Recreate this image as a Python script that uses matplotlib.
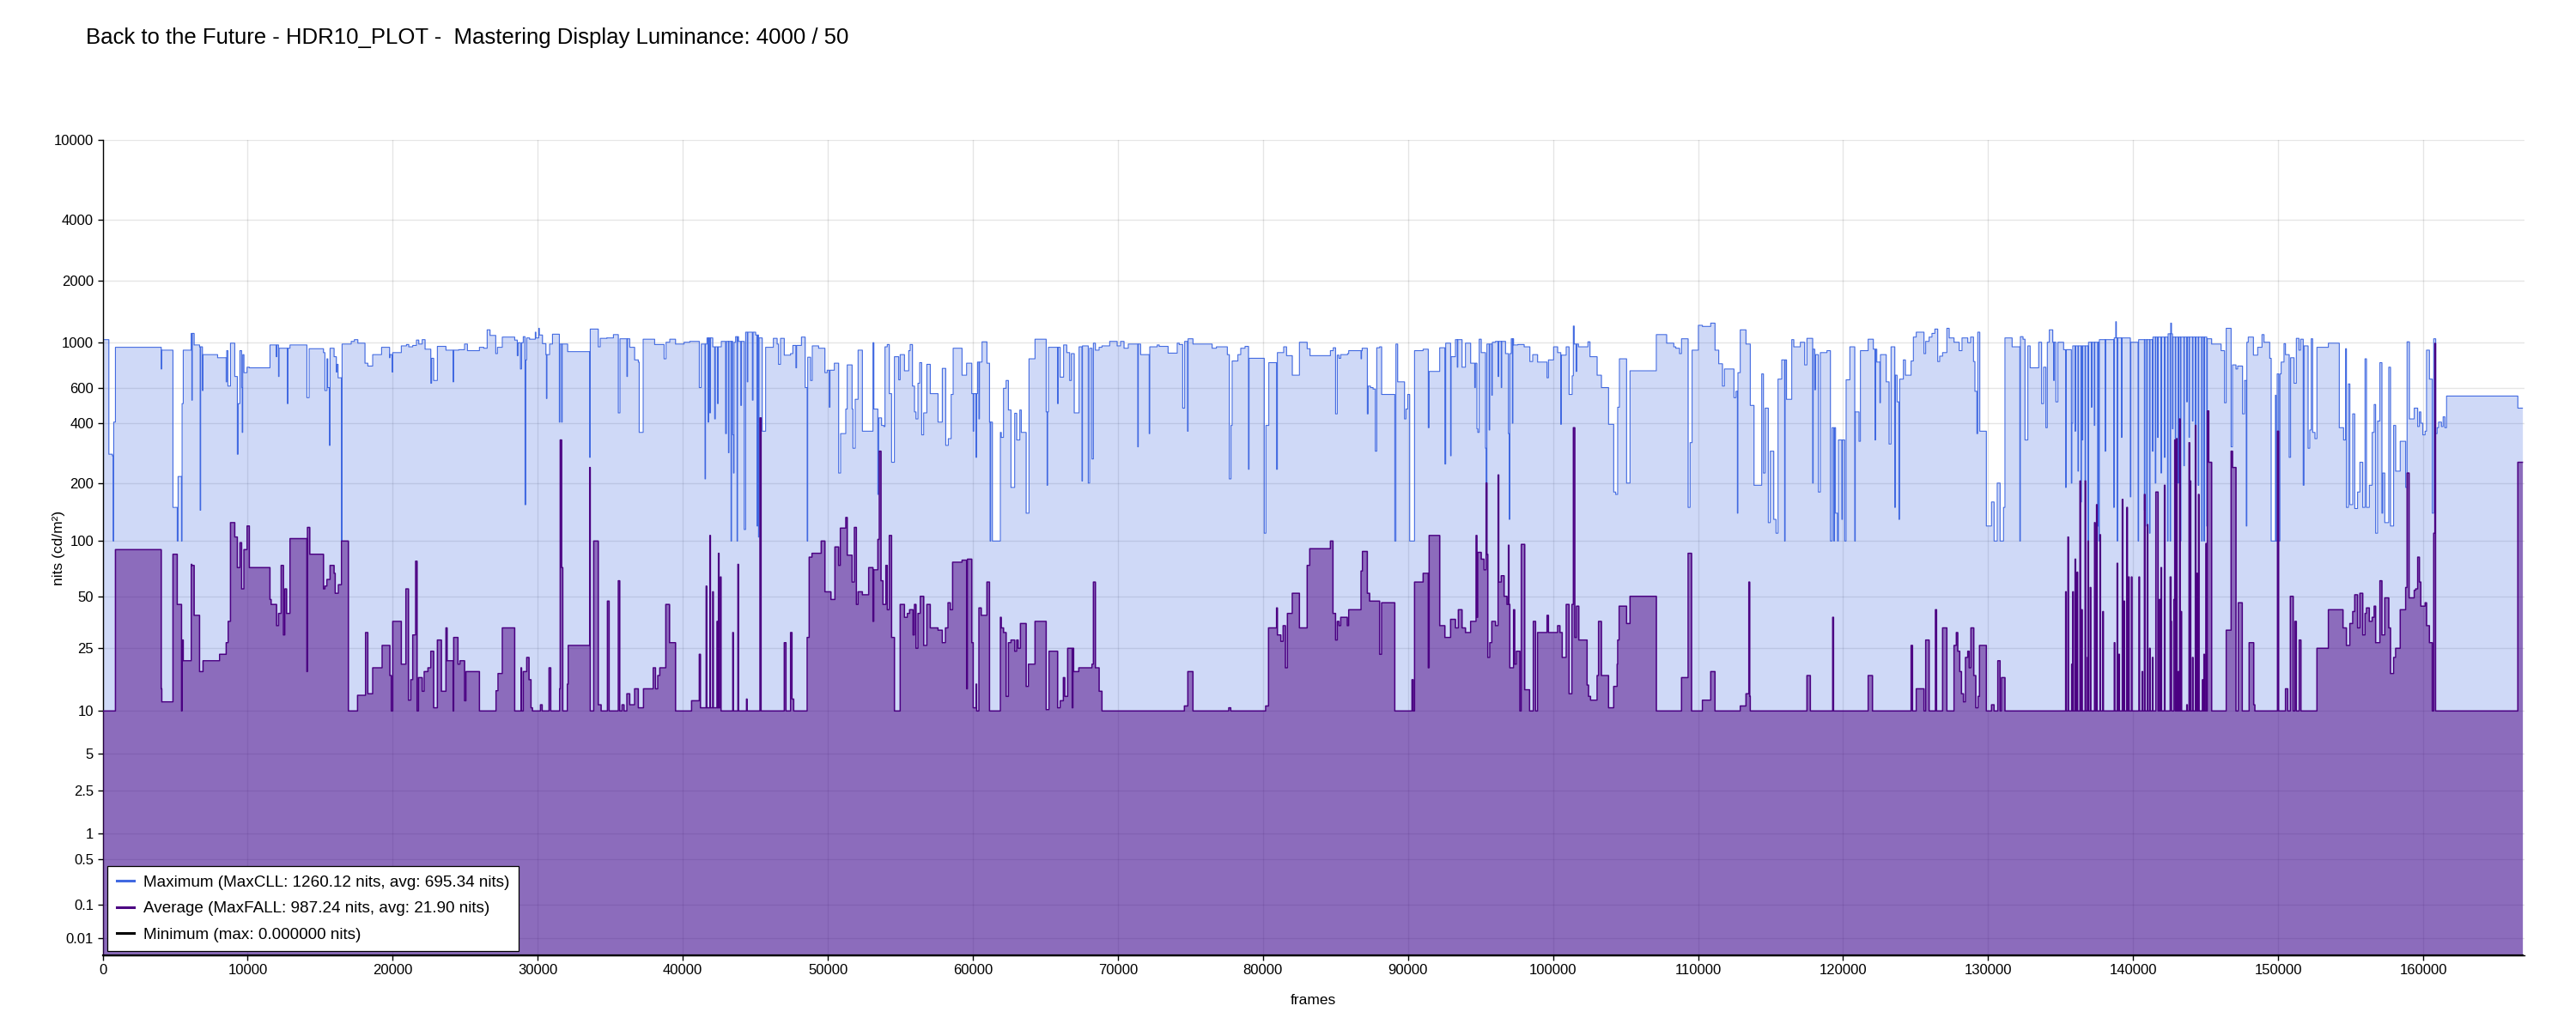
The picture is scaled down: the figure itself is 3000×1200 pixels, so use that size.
import numpy as np
import matplotlib.pyplot as plt
from matplotlib.lines import Line2D

plt.rcParams['font.family'] = ['Liberation Sans', 'DejaVu Sans']

# HDR10 per-frame brightness, stored as (first frame of scene, nits) steps

TITLE = 'Back to the Future - HDR10_PLOT -  Mastering Display Luminance: 4000 / 50'
END_FRAME = 166838
X_MAX = 166980

max_steps = [
    (0, 1030), (430, 280), (670, 275), (727, 100), (766, 405), (884, 945), (4041, 740), (4081, 915),
    (4850, 150), (5146, 100), (5205, 216), (5442, 100), (5481, 500), (5560, 915), (6113, 1105), (6152, 520),
    (6190, 1105), (6310, 970), (6685, 950), (6724, 145), (6764, 950), (6882, 580), (6922, 870), (7928, 840),
    (8520, 640), (8559, 910), (8638, 610), (8816, 990), (9112, 680), (9289, 280), (9348, 500), (9467, 910),
    (9585, 600), (9625, 360), (9664, 870), (9743, 710), (9960, 755), (10118, 750), (11539, 970), (11973, 850),
    (12012, 970), (12130, 680), (12170, 935), (12742, 500), (12781, 935), (12920, 970), (14084, 535), (14242, 930),
    (15228, 890), (15327, 580), (15465, 830), (15524, 600), (15642, 310), (15682, 935), (15958, 850), (16116, 715),
    (16155, 780), (16234, 670), (16471, 100), (16511, 980), (17142, 1010), (17359, 1030), (17596, 990), (18089, 790),
    (18286, 765), (18622, 870), (19234, 945), (19786, 840), (19805, 870), (19963, 715), (20003, 890), (20595, 960),
    (20950, 975), (21108, 950), (21384, 965), (21640, 1025), (21798, 980), (22035, 1030), (22232, 925), (22627, 630),
    (22686, 835), (22824, 650), (23081, 955), (23672, 915), (24166, 640), (24205, 915), (24560, 920), (24955, 980),
    (25152, 910), (25981, 945), (26277, 935), (26514, 1150), (26711, 1080), (27105, 880), (27224, 945), (27559, 1060),
    (28412, 1025), (28590, 860), (28649, 995), (28807, 740), (28886, 995), (29004, 1065), (29123, 155), (29182, 820),
    (29241, 1050), (29438, 1035), (29833, 1120), (29872, 1050), (30070, 1170), (30110, 1085), (30326, 985), (30563, 870),
    (30600, 530), (30640, 870), (30820, 980), (31017, 1095), (31490, 405), (31530, 980), (31648, 405), (31690, 980),
    (32062, 900), (33582, 270), (33621, 1160), (34174, 950), (34312, 1045), (34766, 1050), (35219, 1090), (35555, 450),
    (35673, 1040), (36147, 680), (36190, 1040), (36344, 945), (36679, 820), (36936, 800), (36995, 360), (37271, 1035),
    (38060, 975), (38712, 830), (38850, 1000), (39106, 1035), (39501, 980), (40093, 1000), (40487, 1010), (41139, 600),
    (41276, 980), (41533, 210), (41572, 980), (41671, 1050), (41750, 405), (41790, 1050), (41868, 450), (41910, 1050),
    (42066, 950), (42200, 420), (42250, 950), (42400, 500), (42440, 950), (42658, 1010), (42953, 355), (43013, 1010),
    (43151, 285), (43190, 1010), (43328, 100), (43367, 1010), (43447, 350), (43500, 225), (43540, 1000), (43644, 1065),
    (43743, 100), (43782, 1065), (43841, 1010), (44000, 490), (44050, 1010), (44236, 115), (44335, 1120), (44450, 640),
    (44490, 1120), (44800, 520), (44850, 1120), (45025, 1085), (45124, 120), (45163, 1085), (45222, 105), (45262, 1050),
    (45478, 365), (45715, 945), (46248, 1045), (46505, 980), (46600, 780), (46742, 1045), (46998, 865), (47432, 880),
    (47590, 965), (47800, 750), (47850, 965), (48182, 1060), (48438, 600), (48577, 100), (48616, 845), (48813, 650),
    (48932, 960), (49366, 935), (49800, 710), (49958, 730), (50100, 480), (50150, 730), (50451, 790), (50747, 225),
    (50885, 355), (51240, 470), (51339, 775), (51674, 470), (51733, 300), (51891, 525), (52088, 915), (52384, 365),
    (53114, 995), (53174, 470), (53450, 175), (53509, 425), (53706, 390), (53864, 385), (53943, 950), (54101, 975),
    (54239, 560), (54397, 255), (54594, 850), (54890, 655), (54989, 870), (55285, 725), (55581, 910), (55679, 975),
    (55837, 610), (55975, 455), (56079, 420), (56217, 630), (56335, 795), (56473, 350), (56611, 450), (56828, 780),
    (57065, 560), (57598, 405), (57894, 745), (58131, 310), (58308, 335), (58505, 555), (58644, 935), (59255, 690),
    (59571, 790), (59926, 560), (60025, 365), (60065, 560), (60222, 270), (60262, 560), (60321, 800), (60419, 420),
    (60460, 800), (60636, 1005), (60971, 790), (61149, 405), (61189, 100), (61230, 405), (61347, 100), (61899, 360),
    (61958, 340), (62116, 595), (62294, 650), (62451, 465), (62629, 190), (62886, 448), (63024, 330), (63241, 465),
    (63339, 360), (63675, 140), (63872, 830), (64286, 1035), (65056, 455), (65120, 195), (65160, 455), (65214, 945),
    (65845, 500), (65884, 945), (66022, 675), (66259, 970), (66476, 890), (66674, 650), (66792, 880), (66989, 450),
    (67325, 950), (67522, 205), (67560, 960), (67956, 200), (68055, 935), (68213, 265), (68311, 990), (68449, 915),
    (68706, 945), (68903, 960), (69436, 1010), (69949, 960), (70186, 1010), (70422, 935), (70718, 980), (71369, 305),
    (71410, 980), (71567, 870), (72159, 355), (72200, 950), (72711, 970), (72849, 955), (73461, 885), (74092, 990),
    (74230, 975), (74467, 475), (74605, 1010), (74802, 365), (74842, 1040), (75177, 980), (76499, 935), (76795, 950),
    (77545, 870), (77683, 210), (77802, 390), (77880, 810), (78275, 870), (78472, 935), (78768, 955), (79005, 235),
    (79045, 835), (80090, 110), (80208, 390), (80406, 795), (80939, 235), (80998, 890), (81432, 950), (81629, 860),
    (82024, 690), (82517, 1000), (83050, 930), (83247, 860), (84652, 910), (84850, 940), (85008, 445), (85126, 865),
    (85244, 835), (85363, 870), (85836, 880), (85915, 910), (86764, 830), (86803, 910), (86842, 935), (87198, 445),
    (87257, 610), (87415, 600), (87592, 590), (87750, 290), (87849, 940), (88046, 950), (88184, 555), (89092, 100),
    (89171, 980), (89289, 640), (89763, 420), (89861, 470), (89980, 555), (90118, 100), (90453, 910), (91045, 925),
    (91400, 380), (91459, 720), (92189, 940), (92544, 250), (92604, 990), (92939, 275), (92979, 850), (93274, 1030),
    (93400, 755), (93440, 1030), (93728, 755), (93965, 990), (94320, 790), (94600, 600), (94650, 790), (94754, 375),
    (94813, 360), (94912, 1035), (95050, 890), (95346, 300), (95386, 200), (95445, 980), (95600, 370), (95642, 980),
    (95780, 550), (95820, 1000), (96037, 1010), (96214, 680), (96260, 1010), (96431, 600), (96470, 1010), (96727, 880),
    (96925, 355), (96984, 130), (97023, 880), (97122, 1040), (97200, 400), (97240, 1040), (97280, 970), (97576, 975),
    (98010, 950), (98404, 805), (98602, 870), (98937, 800), (99588, 670), (99687, 820), (100042, 950), (100318, 890),
    (100535, 395), (100575, 865), (100910, 950), (101107, 555), (101324, 685), (101403, 1200), (101462, 980), (101600, 720),
    (101640, 980), (101758, 950), (102409, 1005), (102548, 850), (103041, 690), (103337, 600), (103830, 395), (104185, 180),
    (104323, 175), (104461, 480), (104580, 830), (105073, 200), (105310, 725), (107125, 1090), (107835, 990), (108328, 950),
    (108467, 935), (108723, 880), (108861, 1040), (109315, 150), (109453, 320), (109591, 915), (110025, 1210), (110301, 1195),
    (110874, 1240), (111170, 915), (111426, 785), (111683, 610), (111821, 740), (112476, 535), (112615, 575), (112713, 140),
    (112752, 710), (112911, 1150), (113305, 980), (113601, 490), (113858, 195), (114390, 700), (114509, 225), (114627, 475),
    (114844, 125), (114982, 290), (115219, 130), (115377, 110), (115515, 660), (115771, 820), (115969, 100), (116008, 820),
    (116100, 525), (116462, 1030), (116600, 950), (117054, 1000), (117350, 775), (117508, 1045), (117902, 200), (117941, 925),
    (118050, 585), (118100, 870), (118297, 180), (118435, 890), (118889, 910), (119126, 100), (119244, 380), (119362, 100),
    (119402, 380), (119481, 140), (119619, 100), (119678, 330), (119915, 130), (119955, 330), (120112, 100), (120211, 655),
    (120467, 950), (120803, 100), (120842, 455), (121099, 325), (121197, 910), (121730, 1035), (122085, 925), (122200, 330),
    (122240, 925), (122322, 800), (122540, 505), (122578, 870), (122973, 640), (123170, 315), (123308, 950), (123565, 150),
    (123604, 690), (123723, 510), (123850, 130), (123900, 660), (124157, 820), (124295, 690), (124689, 810), (124847, 1060),
    (125045, 1120), (125577, 880), (125696, 1010), (125932, 1060), (126130, 1105), (126327, 1160), (126524, 805), (126662, 855),
    (126860, 890), (127156, 1170), (127313, 1050), (127649, 1000), (128004, 910), (128201, 1050), (128596, 995), (128793, 1060),
    (128991, 805), (129089, 575), (129227, 355), (129286, 1120), (129424, 365), (129878, 120), (130233, 160), (130411, 100),
    (130628, 200), (130825, 100), (131062, 150), (131161, 1050), (131654, 950), (132187, 100), (132226, 1065), (132404, 1035),
    (132542, 330), (132739, 960), (132897, 750), (133489, 1000), (133686, 500), (133824, 755), (133982, 380), (134081, 1000),
    (134219, 1150), (134456, 1000), (134520, 650), (134560, 1000), (134673, 510), (134811, 1000), (135205, 920), (135344, 190),
    (135384, 920), (135739, 200), (135778, 400), (135837, 960), (135995, 365), (136034, 960), (136192, 230), (136232, 960),
    (136400, 160), (136440, 960), (136488, 330), (136528, 960), (136685, 205), (136724, 960), (136883, 100), (136922, 1000),
    (137119, 480), (137158, 1000), (137317, 390), (137356, 1000), (137550, 120), (137590, 1000), (137632, 100), (137671, 1030),
    (138066, 290), (138105, 1030), (138658, 150), (138697, 1050), (138800, 1260), (138840, 1050), (138894, 100), (138933, 1050),
    (139190, 340), (139230, 1050), (139802, 170), (139841, 1000), (140340, 100), (140380, 1030), (140774, 145), (140814, 1030),
    (140932, 120), (140972, 1030), (141129, 110), (141169, 1030), (141327, 290), (141366, 1060), (141524, 200), (141564, 1060),
    (141682, 340), (141721, 1060), (141918, 225), (141958, 1060), (142155, 270), (142194, 1060), (142372, 100), (142411, 1100),
    (142550, 100), (142590, 1240), (142640, 1100), (142708, 375), (142747, 1060), (142905, 280), (142944, 1060), (143102, 200),
    (143142, 1060), (143260, 100), (143300, 1060), (143497, 245), (143536, 1060), (143694, 510), (143734, 1060), (143852, 340),
    (143891, 1060), (144089, 410), (144128, 1060), (144286, 230), (144325, 1060), (144483, 195), (144523, 1060), (144720, 100),
    (144760, 1060), (144878, 100), (144917, 1060), (145075, 120), (145115, 1040), (145411, 980), (146062, 910), (146298, 505),
    (146417, 1170), (146752, 305), (146851, 775), (147088, 740), (147206, 765), (147541, 445), (147680, 650), (147798, 120),
    (147840, 1000), (147936, 1060), (148291, 865), (148587, 945), (148883, 1090), (149021, 1000), (149416, 835), (149514, 100),
    (149810, 550), (149850, 100), (149930, 700), (150040, 100), (150120, 700), (150205, 800), (150402, 985), (150501, 870),
    (150757, 270), (150856, 840), (151093, 630), (151251, 1045), (151428, 915), (151547, 1035), (151724, 195), (151783, 960),
    (152060, 300), (152178, 370), (152277, 1040), (152375, 360), (152533, 335), (152671, 945), (153460, 990), (154210, 380),
    (154506, 330), (154644, 930), (154703, 150), (154842, 625), (154940, 155), (155138, 445), (155276, 148), (155473, 180),
    (155631, 255), (155828, 150), (155986, 830), (156085, 150), (156282, 195), (156479, 360), (156617, 495), (156716, 110),
    (156854, 410), (157012, 795), (157150, 140), (157209, 225), (157347, 125), (157623, 755), (157742, 120), (157959, 390),
    (158097, 230), (158413, 325), (158788, 190), (158886, 1005), (159044, 420), (159379, 475), (159616, 385), (159735, 455),
    (159833, 400), (159971, 350), (160129, 365), (160228, 915), (160425, 660), (160622, 140), (160721, 1040), (160859, 355),
    (160958, 380), (161057, 405), (161254, 385), (161372, 430), (161490, 380), (161609, 545), (166522, 475),
]

avg_steps = [
    (0, 10), (884, 90), (4041, 14), (4081, 11.5), (4850, 85), (5146, 45), (5442, 10), (5481, 28),
    (5560, 21), (6113, 75), (6152, 74), (6310, 39), (6685, 18), (6922, 21), (8066, 23), (8520, 27),
    (8658, 36), (8816, 125), (9112, 105), (9289, 72), (9467, 98), (9585, 55), (9743, 90), (9960, 120),
    (10118, 72), (11539, 48), (11617, 45), (11993, 34), (12130, 40), (12308, 74), (12466, 30), (12565, 55),
    (12683, 40), (12920, 103), (14084, 18), (14123, 118), (14281, 85), (15228, 55), (15327, 57), (15465, 62),
    (15682, 74), (15958, 67), (16037, 52), (16254, 58), (16471, 100), (16945, 10), (17577, 12.7), (18129, 31),
    (18286, 13), (18622, 19), (19273, 26), (19805, 17), (19904, 10), (20003, 36), (20595, 20), (20910, 55),
    (21088, 11.8), (21246, 16), (21384, 30), (21581, 78), (21680, 10), (21779, 16.5), (22035, 13.5), (22173, 18),
    (22430, 19), (22627, 24), (22824, 10.5), (23081, 28), (23357, 13.5), (23672, 33), (23751, 21), (24166, 10),
    (24205, 29), (24501, 20), (24639, 21), (24955, 11.7), (25053, 18), (25981, 10), (27125, 13.6), (27263, 17.5),
    (27559, 33), (28412, 10), (28847, 19), (28886, 10), (29004, 18), (29241, 22), (29399, 16), (29537, 10.5),
    (29636, 10), (30188, 11), (30307, 10), (30780, 19), (30898, 10), (31510, 14), (31550, 330), (31648, 72),
    (31727, 10), (32043, 15), (32102, 26), (33582, 240), (33621, 10), (33858, 100), (34174, 11), (34371, 10),
    (34805, 47), (34923, 10), (35555, 61), (35653, 10), (35811, 11), (35949, 10), (36147, 13), (36344, 11),
    (36679, 14), (36936, 10.5), (37291, 14), (37962, 19), (38120, 14), (38277, 17), (38416, 19), (38830, 45),
    (39087, 27), (39501, 10), (40606, 11.7), (41139, 23), (41218, 10.5), (41612, 57), (41652, 10.5), (41868, 107),
    (41908, 10.5), (42066, 53), (42105, 10.5), (42362, 36), (42401, 10.5), (42460, 86), (42500, 10.5), (42598, 64),
    (42638, 10), (43447, 31), (43486, 10), (43802, 75), (43841, 10), (44394, 12), (44434, 10), (45321, 425),
    (45400, 10), (46998, 27), (47116, 10), (47432, 31), (47531, 12), (47649, 10), (48577, 29), (48715, 82),
    (48912, 86), (49543, 100), (49800, 53), (50214, 48), (50490, 93), (50747, 74), (50865, 117), (51240, 133),
    (51339, 84), (51674, 60), (51832, 118), (51970, 45), (52088, 53), (52384, 51), (52818, 72), (53114, 36),
    (53174, 70), (53450, 102), (53549, 290), (53667, 61), (53805, 45), (54002, 74), (54101, 42), (54239, 107),
    (54397, 29), (54594, 10), (54989, 45), (55285, 38), (55482, 40), (55640, 42), (55877, 30), (55975, 45),
    (56079, 25), (56217, 40), (56375, 50), (56611, 26), (56828, 45), (57065, 33), (57598, 32), (57894, 27),
    (58111, 33), (58288, 46), (58446, 42), (58604, 77), (59255, 79), (59571, 14), (59630, 80), (59926, 27),
    (60025, 10.5), (60222, 15), (60262, 10), (60419, 43), (60577, 39), (60971, 60), (61149, 10), (61899, 38),
    (61958, 33), (62116, 31), (62294, 12.5), (62451, 27), (62629, 28), (62886, 24), (63024, 28), (63122, 25),
    (63280, 35), (63675, 14.5), (63833, 20), (64286, 36), (65056, 10.2), (65253, 24), (65845, 10.5), (66022, 11.7),
    (66240, 16.5), (66338, 12.5), (66536, 25), (66851, 10.5), (66900, 25), (66950, 18), (67305, 19), (68213, 20),
    (68311, 60), (68449, 19), (68706, 13.5), (68903, 10), (74585, 10.8), (74822, 18), (75177, 10), (77644, 10.5),
    (77782, 10), (80189, 10.8), (80386, 33), (80939, 43), (80998, 30), (81234, 27.5), (81392, 34), (81550, 19),
    (81688, 40), (82024, 52), (82517, 33), (83050, 74), (83227, 91), (84652, 100), (84830, 40), (85008, 28),
    (85126, 36), (85244, 34), (85363, 38), (85817, 34), (85915, 42), (86764, 69), (86862, 88), (87198, 52),
    (87355, 47), (88046, 23), (88184, 46), (89092, 10), (90276, 16), (90354, 10), (90453, 60), (91045, 67),
    (91400, 19), (91459, 107), (92189, 34), (92544, 29), (92939, 37), (93274, 33), (93472, 42), (93728, 33),
    (93965, 31), (94320, 36), (94695, 107), (94754, 38), (94813, 87), (95050, 80), (95247, 70), (95386, 200),
    (95445, 85), (95504, 22), (95642, 27), (95780, 36), (96037, 34), (96214, 220), (96260, 60), (96431, 65),
    (96628, 50), (96826, 45), (96925, 95), (96965, 45), (97023, 19), (97280, 42), (97359, 20), (97477, 24),
    (97714, 10), (97812, 96), (98049, 13.8), (98385, 10), (98641, 36), (98799, 10), (98937, 31), (99588, 39),
    (99687, 31), (100318, 34), (100476, 31), (100634, 22), (100910, 45), (101107, 13), (101305, 45), (101403, 380),
    (101502, 29), (101620, 44), (101778, 28), (102350, 14.8), (102449, 12.5), (102587, 11.8), (103041, 17), (103139, 36),
    (103337, 17), (103830, 10.5), (104185, 14.5), (104422, 20), (104461, 28), (104560, 44), (105073, 35), (105310, 50),
    (107125, 10), (108861, 16.5), (109315, 86), (109552, 10), (110301, 11.8), (110874, 18), (111170, 10), (112911, 10.8),
    (113305, 13), (113502, 60), (113562, 12.5), (113601, 10), (117508, 17), (117744, 10), (119283, 38), (119343, 10),
    (121730, 17), (122026, 10), (124689, 26), (124788, 10), (125045, 14), (125577, 10), (125696, 28), (125932, 10),
    (126367, 42), (126445, 10), (126860, 33), (127156, 10), (127649, 26), (127807, 31), (127905, 24), (128043, 18),
    (128162, 13), (128300, 11.5), (128438, 22), (128596, 24), (128694, 19), (128813, 33), (129010, 17), (129148, 10.5),
    (129306, 12.5), (129404, 26), (129878, 10), (130233, 11), (130411, 10), (130667, 21), (130825, 10), (130924, 16.5),
    (131161, 10), (135344, 53), (135384, 10), (135502, 105), (135541, 10), (135758, 20), (135798, 10), (135837, 53),
    (135876, 10), (135995, 80), (136034, 10), (136133, 68), (136172, 10), (136330, 205), (136370, 10), (136448, 42),
    (136488, 10), (136685, 205), (136724, 10), (136843, 22), (136883, 100), (136922, 10), (137040, 56), (137080, 10),
    (137336, 125), (137376, 10), (137474, 155), (137514, 10), (137711, 108), (137750, 10), (137908, 41), (137948, 10),
    (138697, 27), (138737, 10), (138894, 76), (138933, 10), (139013, 23), (139052, 10), (139250, 165), (139289, 10),
    (139368, 47), (139408, 10), (139565, 150), (139605, 10), (139684, 64), (139723, 10), (139881, 64), (139920, 10),
    (140399, 64), (140439, 10), (140616, 18), (140656, 10), (140774, 175), (140814, 10), (140971, 122), (141011, 10),
    (141129, 25), (141169, 10), (141327, 22), (141366, 10), (141563, 180), (141721, 10), (141820, 48), (141860, 10),
    (141918, 72), (141958, 10), (142155, 195), (142194, 10), (142550, 64), (142609, 36), (142648, 10), (142806, 48),
    (142865, 330), (142905, 10), (142984, 335), (143024, 10), (143102, 18), (143142, 10), (143201, 420), (143240, 10),
    (143300, 41), (143340, 10), (143694, 11), (143734, 10), (143852, 320), (143891, 10), (143931, 205), (143970, 10),
    (144089, 22), (144128, 10), (144286, 390), (144325, 10), (144385, 67), (144424, 10), (144503, 175), (144542, 10),
    (144779, 16), (144818, 10), (144878, 23), (144917, 10), (145016, 97), (145055, 10), (145115, 460), (145213, 255),
    (145411, 10), (146417, 32), (146752, 290), (146851, 240), (147088, 10), (147246, 46), (147522, 10), (147995, 27),
    (148311, 11), (148390, 10), (149949, 365), (150028, 10), (150501, 14), (150659, 10), (150836, 50), (151034, 10),
    (151152, 36), (151251, 10), (151448, 28), (151567, 10), (152671, 25), (153460, 42), (154467, 33), (154703, 26),
    (154940, 35), (155138, 41), (155276, 51), (155473, 33), (155631, 52), (155828, 30), (155986, 40), (156085, 43),
    (156282, 36), (156479, 38), (156617, 44), (156716, 27), (157012, 61), (157150, 30), (157347, 49), (157623, 33),
    (157742, 17.5), (157959, 22), (158097, 25), (158413, 42), (158788, 56), (158886, 225), (159025, 49), (159379, 54),
    (159478, 55), (159616, 82), (159735, 60), (159833, 44), (160129, 46), (160228, 34), (160425, 27), (160622, 10),
    (160721, 110), (160800, 987), (160850, 10), (166522, 255),
]

y_ticks = [0.01, 0.1, 0.5, 1, 2.5, 5, 10, 25, 50, 100, 200, 400, 600, 1000, 2000, 4000, 10000]
y_labels = ['0.01', '0.1', '0.5', '1', '2.5', '5', '10', '25', '50', '100', '200', '400', '600',
            '1000', '2000', '4000', '10000']
x_ticks = list(range(0, 160001, 10000))

legend_labels = [
    'Maximum (MaxCLL: 1260.12 nits, avg: 695.34 nits)',
    'Average (MaxFALL: 987.24 nits, avg: 21.90 nits)',
    'Minimum (max: 0.000000 nits)',
]

MAX_COLOR = '#4169e1'
AVG_COLOR = '#4b0082'
MIN_COLOR = 'black'

# ST 2084 (PQ) curve for the y axis

m1 = 2610 / 16384
m2 = 2523 / 4096 * 128
c1 = 3424 / 4096
c2 = 2413 / 4096 * 32
c3 = 2392 / 4096 * 32


def pq(nits):
    y = np.clip(np.asarray(nits, dtype=float), 0, None) / 10000
    yp = y ** m1
    return ((c1 + c2 * yp) / (1 + c3 * yp)) ** m2


def pq_inv(v):
    v = np.clip(np.asarray(v, dtype=float), 0, 1)
    vp = v ** (1 / m2)
    return 10000 * (np.maximum(vp - c1, 0) / (c2 - c3 * vp)) ** (1 / m1)


def to_edges(steps):
    starts = np.array([s[0] for s in steps] + [END_FRAME], dtype=float)
    vals = np.array([s[1] for s in steps], dtype=float)
    return starts, np.append(vals, vals[-1])


fig = plt.figure(figsize=(30, 12), dpi=100)
ax = fig.add_axes([119.5 / 3000, 87 / 1200, (2940 - 119.5) / 3000, 950 / 1200])
ax.set_yscale('function', functions=(pq, pq_inv))

mx, my = to_edges(max_steps)
ax.fill_between(mx, my, 0, step='post', color=MAX_COLOR, alpha=0.25, lw=0, zorder=1)
ax.step(mx, my, where='post', color=MAX_COLOR, lw=0.8, zorder=2)

vx, vy = to_edges(avg_steps)
ax.fill_between(vx, vy, 0, step='post', color=AVG_COLOR, alpha=0.5, lw=0, zorder=3)
ax.step(vx, vy, where='post', color=AVG_COLOR, lw=1.1, zorder=4)

ax.plot([0, END_FRAME], [0, 0], color=MIN_COLOR, lw=1.6, zorder=5, clip_on=False)

ax.set_xlim(0, X_MAX)
ax.set_ylim(0, 10000)
ax.set_xticks(x_ticks)
ax.set_xticklabels([str(t) for t in x_ticks])
ax.set_yticks(y_ticks)
ax.set_yticklabels(y_labels)
ax.minorticks_off()

ax.set_axisbelow(True)
ax.grid(True, color='black', alpha=0.1, lw=1.0)
for side in ['top', 'right']:
    ax.spines[side].set_visible(False)
for side in ['left', 'bottom']:
    ax.spines[side].set_linewidth(1.0)
ax.tick_params(direction='out', length=4.5, width=1, labelsize=12, pad=3)

ax.set_xlabel('frames', fontsize=12.5, labelpad=14)
ax.set_ylabel('nits (cd/m²)', fontsize=12.5)
ax.yaxis.set_label_coords(-0.0153, 0.5)

handles = [Line2D([], [], color=c, lw=2.2) for c in [MAX_COLOR, AVG_COLOR, MIN_COLOR]]
leg = ax.legend(handles, legend_labels, loc='lower left', bbox_to_anchor=(0.002, 0.005),
                borderaxespad=0, fontsize=13.6, frameon=True, fancybox=False, framealpha=1,
                edgecolor='black', handlelength=1.07, handletextpad=0.61, borderpad=0.55,
                labelspacing=0.7)
leg.get_frame().set_linewidth(0.9)
leg.set_zorder(10)

fig.text(100 / 3000, 1 - 44 / 1200, TITLE, fontsize=18.5, ha='left', va='center')

fig.savefig('out.png', dpi=100)
